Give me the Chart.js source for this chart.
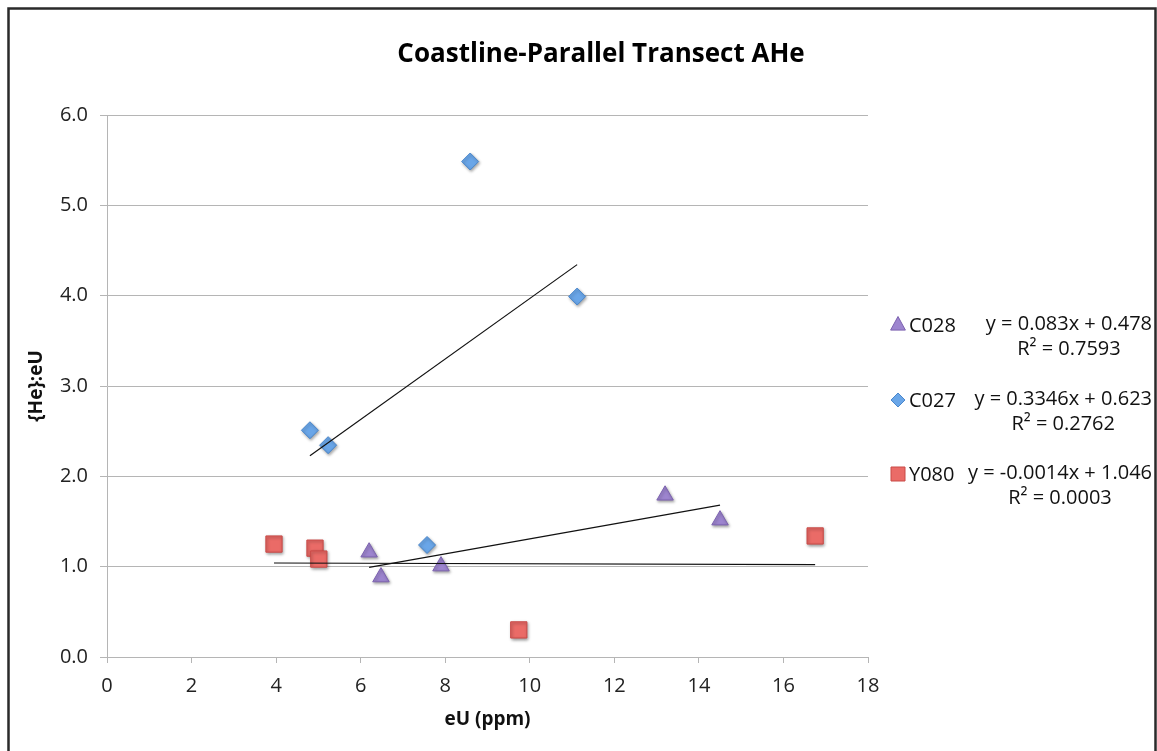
<!DOCTYPE html>
<html>
<head>
<meta charset="utf-8">
<title>Coastline-Parallel Transect AHe</title>
<script src="https://cdn.jsdelivr.net/npm/chart.js@4.4.1/dist/chart.umd.min.js"></script>
<style>
  html, body { margin: 0; padding: 0; background: #fff; }
  #wrap { width: 1157px; height: 751px; }
</style>
</head>
<body>
<div id="wrap"><canvas id="aheChart" width="1157" height="751"></canvas></div>
<script>
// sample data: eU (ppm) vs {He}:eU
const seriesNames = ['C028', 'C027', 'Y080'];

const c028X = [6.20, 6.48, 7.90, 13.20, 14.50];
const c028Y = [1.16, 0.885, 1.006, 1.79, 1.515];

const c027X = [4.80, 5.23, 8.59, 11.12, 7.57];
const c027Y = [2.51, 2.345, 5.485, 3.99, 1.24];

const y080X = [3.95, 4.92, 5.01, 9.74, 16.75];
const y080Y = [1.25, 1.205, 1.084, 0.30, 1.34];

// linear fits, same order as seriesNames
const fitSlope = [0.083, 0.3346, -0.0014];
const fitIntercept = [0.478, 0.623, 1.046];
const fitR2 = ['0.7593', '0.2762', '0.0003'];

const xTicks = [0, 2, 4, 6, 8, 10, 12, 14, 16, 18];
const yTicks = [0, 1, 2, 3, 4, 5, 6];

const chartTitle = 'Coastline-Parallel Transect AHe';

const FONT = '"Open Sans", "DejaVu Sans", sans-serif';
Chart.defaults.font.family = FONT;
Chart.defaults.color = '#222';

const seriesX = [c028X, c027X, y080X];
const seriesY = [c028Y, c027Y, y080Y];
const styles = [
  { pointStyle: 'triangle', radius: 9.5, fill: '#9d85cf', edge: '#7c62b0' },
  { pointStyle: 'rectRot', radius: 8.5, fill: '#6aa6e8', edge: '#4a87cc' },
  { pointStyle: 'rect', radius: 11.5, fill: '#ea6b67', edge: '#c94a47' }
];

function toPoints(xs, ys) {
  return xs.map((x, i) => ({ x: x, y: ys[i] }));
}

function fitLine(k) {
  const xs = seriesX[k];
  const lo = Math.min(...xs), hi = Math.max(...xs);
  return [lo, hi].map(x => ({ x: x, y: fitSlope[k] * x + fitIntercept[k] }));
}

function equationText(k) {
  return 'y = ' + fitSlope[k] + 'x + ' + fitIntercept[k];
}

const datasets = [];
seriesNames.forEach((name, k) => {
  datasets.push({
    label: name,
    data: toPoints(seriesX[k], seriesY[k]),
    pointStyle: styles[k].pointStyle,
    pointRadius: styles[k].radius,
    pointHoverRadius: styles[k].radius,
    backgroundColor: styles[k].fill,
    borderColor: styles[k].edge,
    borderWidth: 1,
    shadow: true,
    order: 1
  });
});
seriesNames.forEach((name, k) => {
  datasets.push({
    type: 'line',
    label: name + ' fit',
    data: fitLine(k),
    borderColor: '#111',
    borderWidth: 1.2,
    pointRadius: 0,
    fill: false,
    order: 0
  });
});

// soft drop shadow under the markers
const markerShadow = {
  id: 'markerShadow',
  beforeDatasetDraw(chart, args) {
    if (!chart.data.datasets[args.index].shadow) return;
    const ctx = chart.ctx;
    ctx.save();
    ctx.shadowColor = 'rgba(0,0,0,0.35)';
    ctx.shadowBlur = 3;
    ctx.shadowOffsetX = 1;
    ctx.shadowOffsetY = 1.5;
  },
  afterDatasetDraw(chart, args) {
    if (!chart.data.datasets[args.index].shadow) return;
    chart.ctx.restore();
  }
};

function drawMarker(ctx, style, x, y, r) {
  ctx.beginPath();
  if (style === 'triangle') {
    ctx.moveTo(x, y - r);
    ctx.lineTo(x + r * 0.87, y + r * 0.6);
    ctx.lineTo(x - r * 0.87, y + r * 0.6);
  } else if (style === 'rectRot') {
    ctx.moveTo(x, y - r);
    ctx.lineTo(x + r, y);
    ctx.lineTo(x, y + r);
    ctx.lineTo(x - r, y);
  } else {
    ctx.rect(x - r, y - r, 2 * r, 2 * r);
  }
  ctx.closePath();
  ctx.fill();
  ctx.stroke();
}

// legend entries with the fit equations beside them
const sideLegend = {
  id: 'sideLegend',
  afterDraw(chart) {
    const ctx = chart.ctx;
    const rowY = [325, 400, 474];
    const markerSize = [8.5, 7, 7];
    ctx.save();
    seriesNames.forEach((name, k) => {
      const y = rowY[k];
      ctx.fillStyle = styles[k].fill;
      ctx.strokeStyle = styles[k].edge;
      ctx.lineWidth = 1;
      drawMarker(ctx, styles[k].pointStyle, 898, y, markerSize[k]);

      ctx.fillStyle = '#111';
      ctx.font = '20px ' + FONT;
      ctx.textBaseline = 'middle';
      ctx.textAlign = 'left';
      ctx.fillText(name, 909, y + 1);

      const eq = equationText(k);
      const w = ctx.measureText(eq).width;
      const right = 1152;
      ctx.textAlign = 'right';
      ctx.fillText(eq, right, y - 1);
      ctx.textAlign = 'center';
      ctx.fillText('R\u00B2 = ' + fitR2[k], right - w / 2, y + 24);
    });
    ctx.restore();
  }
};

// white page, outer frame and centred title
const frame = {
  id: 'frame',
  beforeDraw(chart) {
    const ctx = chart.ctx;
    ctx.save();
    ctx.fillStyle = '#fff';
    ctx.fillRect(0, 0, chart.width, chart.height);
    ctx.restore();
  },
  afterDraw(chart) {
    const ctx = chart.ctx;
    ctx.save();
    ctx.strokeStyle = '#2a2a2a';
    ctx.lineWidth = 2.5;
    ctx.beginPath();
    ctx.moveTo(8.5, chart.height + 5);
    ctx.lineTo(8.5, 8.5);
    ctx.lineTo(1155.5, 8.5);
    ctx.lineTo(1155.5, chart.height + 5);
    ctx.stroke();

    ctx.fillStyle = '#000';
    ctx.font = 'bold 26px ' + FONT;
    ctx.textAlign = 'center';
    ctx.textBaseline = 'middle';
    ctx.fillText(chartTitle, 601, 55);
    ctx.restore();
  }
};

const gridGray = '#b5b5b5';

new Chart(document.getElementById('aheChart'), {
  type: 'scatter',
  data: { datasets: datasets },
  options: {
    responsive: false,
    animation: false,
    layout: { padding: { left: 0, top: 115, right: 289, bottom: 0 } },
    plugins: {
      legend: { display: false },
      tooltip: { enabled: false },
      title: { display: false }
    },
    scales: {
      x: {
        type: 'linear',
        min: 0,
        max: 18,
        afterBuildTicks: s => { s.ticks = xTicks.map(v => ({ value: v })); },
        afterFit: s => { s.height = 94; },
        grid: { drawOnChartArea: false, drawTicks: true, tickLength: 6, color: gridGray },
        border: { color: gridGray },
        ticks: { font: { size: 20 }, padding: 11, color: '#222', maxRotation: 0 },
        title: {
          display: true,
          text: 'eU (ppm)',
          color: '#111',
          font: { size: 19, weight: 'bold' },
          padding: { top: 0, bottom: 20 }
        }
      },
      y: {
        type: 'linear',
        min: 0,
        max: 6,
        afterBuildTicks: s => { s.ticks = yTicks.map(v => ({ value: v })); },
        afterFit: s => { s.width = 107; },
        grid: { color: gridGray, tickLength: 7, drawTicks: true },
        border: { color: gridGray },
        ticks: {
          font: { size: 20 },
          padding: 12,
          color: '#222',
          callback: v => v.toFixed(1)
        },
        title: {
          display: true,
          text: '{He}:eU',
          color: '#111',
          font: { size: 19, weight: 'bold' },
          padding: { top: 25, bottom: 0 }
        }
      }
    }
  },
  plugins: [frame, markerShadow, sideLegend]
});
</script>
</body>
</html>
